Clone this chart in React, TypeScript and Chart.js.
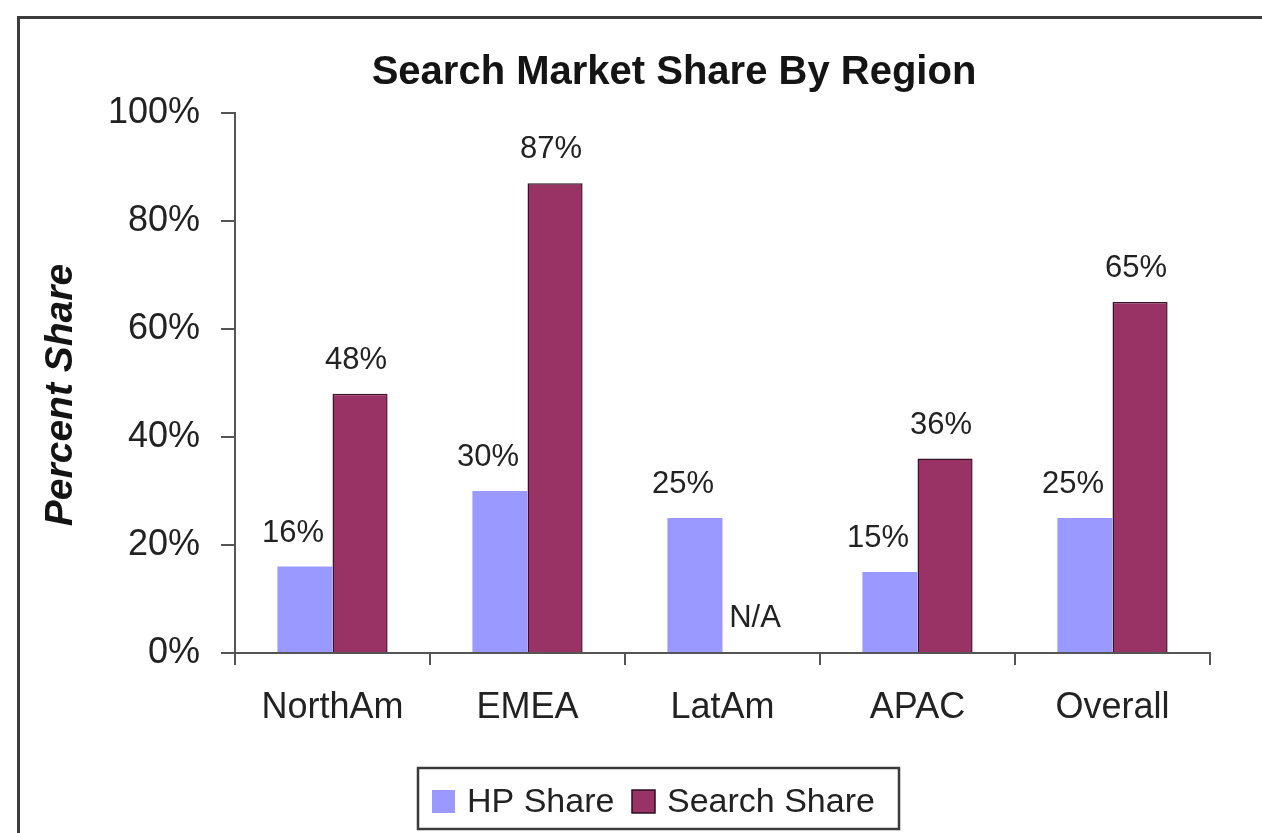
import React, { useEffect, useRef } from "react";
import { Chart, registerables } from "chart.js";

Chart.register(...registerables);

const categories = ["NorthAm", "EMEA", "LatAm", "APAC", "Overall"];
const hpShare: (number | null)[] = [16, 30, 25, 15, 25];
const searchShare: (number | null)[] = [48, 87, null, 36, 65];
const yTickValues = [0, 20, 40, 60, 80, 100];
const seriesNames = ["HP Share", "Search Share"];
const chartTitle = "Search Market Share By Region";
const yAxisTitle = "Percent Share";
const naLabel = "N/A";

const W = 1262;
const H = 833;
const FONT = "'Liberation Sans', Arial, Helvetica, sans-serif";
const HP_COLOR = "#9999FF";
const SEARCH_COLOR = "#993366";
const TEXT = "#222222";
const AXIS = "#555555";

const decorPlugin = {
  id: "decor",
  afterDatasetsDraw(chart: any) {
    const { ctx, scales } = chart;
    ctx.save();
    // data labels
    ctx.font = `31px ${FONT}`;
    ctx.fillStyle = TEXT;
    ctx.textAlign = "center";
    ctx.textBaseline = "alphabetic";
    const zeroY = scales.y.getPixelForValue(0);
    chart.data.datasets.forEach((ds: any, di: number) => {
      const meta = chart.getDatasetMeta(di);
      const hpMeta = chart.getDatasetMeta(0);
      ds.data.forEach((v: number | null, i: number) => {
        if (v == null) {
          const hb = hpMeta.data[i];
          const x = hb.x + hb.width + 5;
          ctx.fillText(naLabel, x, zeroY - 26);
        } else {
          const bar = meta.data[i];
          const dx = di === 0 ? -12 : -4;
          ctx.fillText(`${v}%`, bar.x + dx, bar.y - 25);
        }
      });
    });
    ctx.restore();
  },
  afterDraw(chart: any) {
    const { ctx, chartArea } = chart;
    ctx.save();
    // title
    ctx.font = `bold 40px ${FONT}`;
    ctx.fillStyle = "#141414";
    ctx.textAlign = "center";
    ctx.textBaseline = "alphabetic";
    ctx.fillText(chartTitle, 674, 84);

    // y axis title
    ctx.save();
    ctx.translate(72, (chartArea.top + chartArea.bottom) / 2 + 12);
    ctx.rotate(-Math.PI / 2);
    ctx.font = `italic bold 39px ${FONT}`;
    ctx.textAlign = "center";
    ctx.fillText(yAxisTitle, 0, 0);
    ctx.restore();

    // legend
    const lx = 418, ly = 768, lw = 481, lh = 61;
    ctx.lineWidth = 2.5;
    ctx.strokeStyle = "#3a3a3a";
    ctx.fillStyle = "#ffffff";
    ctx.fillRect(lx, ly, lw, lh);
    ctx.strokeRect(lx, ly, lw, lh);
    ctx.font = `34px ${FONT}`;
    ctx.textAlign = "left";
    ctx.textBaseline = "alphabetic";
    const colors = [HP_COLOR, SEARCH_COLOR];
    const boxX = [432, 632];
    boxX.forEach((bx, k) => {
      ctx.fillStyle = colors[k];
      ctx.fillRect(bx, 790, 23, 23);
      if (k === 1) {
        ctx.lineWidth = 1.5;
        ctx.strokeStyle = "#2a0f1f";
        ctx.strokeRect(bx, 790, 23, 23);
      }
      ctx.fillStyle = TEXT;
      ctx.fillText(seriesNames[k], bx + 35, 812);
    });
    ctx.restore();
  },
};

export default function App() {
  const canvasRef = useRef<HTMLCanvasElement | null>(null);

  useEffect(() => {
    const canvas = canvasRef.current;
    if (!canvas) return;
    const chart = new Chart(canvas, {
      type: "bar",
      data: {
        labels: categories,
        datasets: [
          {
            label: seriesNames[0],
            data: hpShare,
            backgroundColor: HP_COLOR,
            borderWidth: 0,
            barPercentage: 1,
            categoryPercentage: 0.565,
          },
          {
            label: seriesNames[1],
            data: searchShare,
            backgroundColor: SEARCH_COLOR,
            borderColor: "#3a1328",
            borderWidth: 1.5,
            barPercentage: 1,
            categoryPercentage: 0.565,
          },
        ],
      },
      options: {
        responsive: false,
        animation: false,
        events: [],
        layout: { padding: { left: 100, right: 52, top: 113, bottom: 100 } },
        plugins: {
          legend: { display: false },
          title: { display: false },
          tooltip: { enabled: false },
        },
        scales: {
          x: {
            grid: {
              display: true,
              drawOnChartArea: false,
              drawTicks: true,
              tickLength: 12,
              color: AXIS,
              lineWidth: 2,
              offset: true,
            },
            border: { display: true, color: AXIS, width: 2 },
            ticks: {
              font: { family: FONT, size: 36 },
              color: TEXT,
              padding: 21,
              maxRotation: 0,
            },
            afterFit: (s: any) => {
              s.height = 80;
            },
          },
          y: {
            min: 0,
            max: 100,
            afterBuildTicks: (s: any) => {
              s.ticks = yTickValues.map((v) => ({ value: v }));
            },
            ticks: {
              font: { family: FONT, size: 36 },
              color: TEXT,
              padding: 21,
              callback: (v: any) => `${v}%`,
            },
            grid: {
              display: true,
              drawOnChartArea: false,
              drawTicks: true,
              tickLength: 14,
              color: AXIS,
              lineWidth: 2,
            },
            border: { display: true, color: AXIS, width: 2 },
            afterFit: (s: any) => {
              s.width = 135;
            },
          },
        },
      },
      plugins: [decorPlugin],
    });
    return () => chart.destroy();
  }, []);

  return (
    <div
      style={{
        position: "fixed",
        left: 0,
        top: 0,
        width: W,
        height: H,
        overflow: "hidden",
        background: "#ffffff",
      }}
    >
      <div
        style={{
          position: "absolute",
          left: 17,
          top: 16,
          width: 1400,
          height: 1000,
          border: "3px solid #3c3c3c",
          boxSizing: "border-box",
        }}
      />
      <canvas
        ref={canvasRef}
        width={W}
        height={H}
        style={{ position: "absolute", left: 0, top: 0, width: W, height: H, display: "block" }}
      />
    </div>
  );
}
